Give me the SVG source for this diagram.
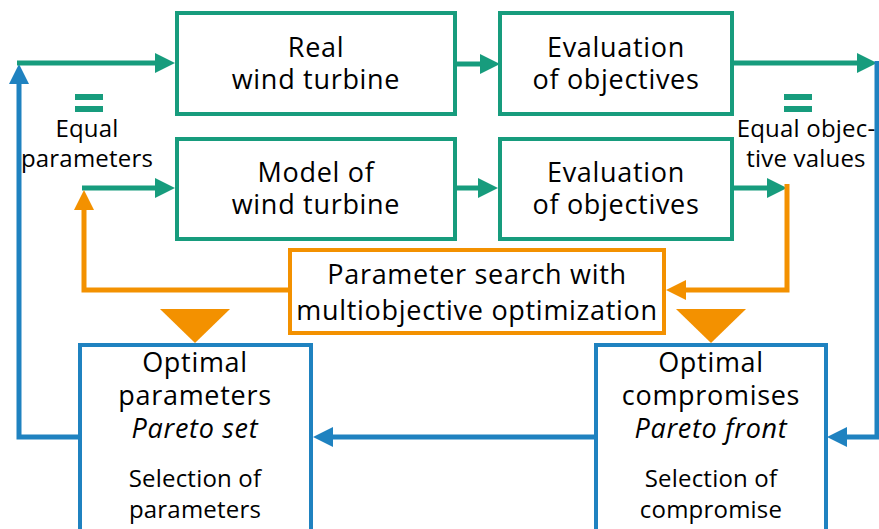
<svg xmlns="http://www.w3.org/2000/svg" width="879" height="529" viewBox="0 0 879 529">
<style>
text{font-family:"Open Sans","Liberation Sans",sans-serif;fill:#000;text-anchor:middle}
.bt{font-size:27px;letter-spacing:0.7px}
.lb{font-size:24px;letter-spacing:0.2px}
.it{font-style:italic}
.g{fill:#fff;stroke:#179C7D;stroke-width:4}
.o{fill:#fff;stroke:#F39100;stroke-width:4}
.b{fill:#fff;stroke:#1F82C0;stroke-width:4}
.cg{fill:none;stroke:#179C7D;stroke-width:5}
.co{fill:none;stroke:#F39100;stroke-width:5}
.cb{fill:none;stroke:#1F82C0;stroke-width:5}
</style>
<defs>
<marker id="ag" viewBox="0 0 20 20" markerWidth="20" markerHeight="20" markerUnits="userSpaceOnUse" refX="0" refY="10" orient="auto"><path d="M0,0L20,10L0,20z" fill="#179C7D"/></marker>
<marker id="ao" viewBox="0 0 20 20" markerWidth="20" markerHeight="20" markerUnits="userSpaceOnUse" refX="0" refY="10" orient="auto"><path d="M0,0L20,10L0,20z" fill="#F39100"/></marker>
<marker id="ab" viewBox="0 0 20 20" markerWidth="20" markerHeight="20" markerUnits="userSpaceOnUse" refX="0" refY="10" orient="auto"><path d="M0,0L20,10L0,20z" fill="#1F82C0"/></marker>
</defs>
<g id="connectors">
<path class="cb" d="M78,437H19V84" marker-end="url(#ab)"/>
<path class="cg" d="M17,63H155" marker-end="url(#ag)"/>
<path class="cg" d="M457,64H480" marker-end="url(#ag)"/>
<path class="cg" d="M734,63H857" marker-end="url(#ag)"/>
<path class="cb" d="M877,61V437H847" marker-end="url(#ab)"/>
<path class="cg" d="M82,188H155" marker-end="url(#ag)"/>
<path class="cg" d="M457,188H478" marker-end="url(#ag)"/>
<path class="cg" d="M734,188H767" marker-end="url(#ag)"/>
<path class="co" d="M787,184V290H686" marker-end="url(#ao)"/>
<path class="co" d="M288,290H84V210" marker-end="url(#ao)"/>
<path class="cb" d="M594,437H333" marker-end="url(#ab)"/>
<polygon points="160,309 230,309 195,343" fill="#F39100"/>
<polygon points="676,309 746,309 711,343" fill="#F39100"/>
</g>
<g id="eq-params">
<rect x="75" y="94" width="28" height="6" fill="#179C7D"/>
<rect x="75" y="106" width="28" height="6" fill="#179C7D"/>
<text class="lb" x="87" y="137">Equal</text>
<text class="lb" x="87" y="167">parameters</text>
</g>
<g id="eq-objectives">
<rect x="784" y="94" width="28" height="6" fill="#179C7D"/>
<rect x="784" y="106" width="28" height="6" fill="#179C7D"/>
<text class="lb" x="806" y="137">Equal objec-</text>
<text class="lb" x="806" y="167">tive values</text>
</g>
<g id="real-turbine">
<rect class="g" x="177" y="13" width="278" height="101"/>
<text class="bt" x="316" y="57">Real</text>
<text class="bt" x="316" y="89">wind turbine</text>
</g>
<g id="eval-real">
<rect class="g" x="500" y="13" width="232" height="101"/>
<text class="bt" x="616" y="57">Evaluation</text>
<text class="bt" x="616" y="89">of objectives</text>
</g>
<g id="model-turbine">
<rect class="g" x="177" y="139" width="278" height="100"/>
<text class="bt" x="316" y="182">Model of</text>
<text class="bt" x="316" y="214">wind turbine</text>
</g>
<g id="eval-model">
<rect class="g" x="500" y="139" width="232" height="100"/>
<text class="bt" x="616" y="182">Evaluation</text>
<text class="bt" x="616" y="214">of objectives</text>
</g>
<g id="param-search">
<rect class="o" x="290" y="250" width="374" height="83"/>
<text class="bt" x="477" y="284">Parameter search with</text>
<text class="bt" x="477" y="320">multiobjective optimization</text>
</g>
<g id="pareto-set">
<rect class="b" x="80" y="345" width="231" height="200"/>
<text class="bt" x="195" y="372">Optimal</text>
<text class="bt" x="195" y="405">parameters</text>
<text class="bt it" x="195" y="438">Pareto set</text>
<text class="lb" x="195" y="487">Selection of</text>
<text class="lb" x="195" y="518">parameters</text>
</g>
<g id="pareto-front">
<rect class="b" x="596" y="345" width="230" height="200"/>
<text class="bt" x="711" y="372">Optimal</text>
<text class="bt" x="711" y="405">compromises</text>
<text class="bt it" x="711" y="438">Pareto front</text>
<text class="lb" x="711" y="487">Selection of</text>
<text class="lb" x="711" y="518">compromise</text>
</g>
</svg>
